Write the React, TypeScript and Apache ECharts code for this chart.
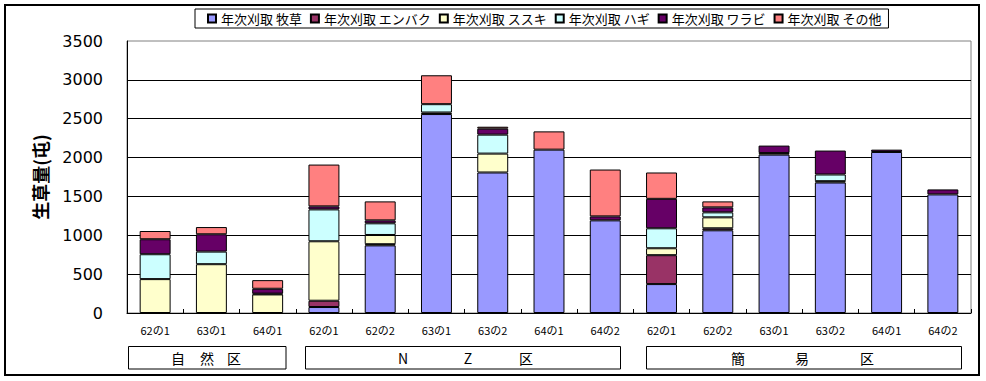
import React, { useEffect, useRef } from "react";
import * as echarts from "echarts";

const categories = ["62の1", "63の1", "64の1", "62の1", "62の2", "63の1", "63の2", "64の1", "64の2", "62の1", "62の2", "63の1", "63の2", "64の1", "64の2"];

const seriesNames = ["年次刈取 牧草", "年次刈取 エンバク", "年次刈取 ススキ", "年次刈取 ハギ", "年次刈取 ワラビ", "年次刈取 その他"];
const seriesColors = ["#9999FF", "#993366", "#FFFFCC", "#CCFFFF", "#660066", "#FF8080"];

const bokusou = [0, 0, 0, 77, 870, 2560, 1808, 2102, 1192, 372, 1064, 2038, 1679, 2072, 1526];
const enbaku = [0, 0, 0, 81, 15, 0, 0, 0, 0, 372, 26, 0, 0, 0, 0];
const susuki = [436, 628, 239, 765, 119, 20, 243, 0, 0, 89, 141, 20, 17, 0, 0];
const hagi = [320, 162, 10, 410, 150, 107, 244, 0, 0, 257, 64, 0, 86, 0, 0];
const warabi = [193, 223, 63, 39, 38, 0, 77, 0, 51, 379, 64, 96, 308, 30, 64];
const sonota = [106, 93, 111, 538, 244, 372, 25, 235, 603, 339, 77, 0, 0, 0, 0];

const seriesValues = [bokusou, enbaku, susuki, hagi, warabi, sonota];

const yAxisName = "生草量(屯)";
const yMin = 0;
const yMax = 3500;
const yInterval = 500;

const groupChars = [
  ["自", "然", "区"],
  ["N", "Z", "区"],
  ["簡", "易", "区"],
];

const CJK = "'Noto Sans CJK JP', 'Noto Sans', sans-serif";

export default function App() {
  const ref = useRef<HTMLDivElement>(null);

  useEffect(() => {
    if (!ref.current) return;
    const chart = echarts.init(ref.current, null, { renderer: "svg" });

    const groupBoxes = [
      { x: 128.5, w: 157.5, cx: [178, 207, 234] },
      { x: 305.5, w: 315, cx: [403, 468, 526] },
      { x: 646.5, w: 315, cx: [738, 802, 867] },
    ];

    const graphics: any[] = [
      {
        type: "rect",
        shape: { x: 5, y: 5, width: 974, height: 370 },
        style: { fill: "none", stroke: "#000", lineWidth: 2 },
        silent: true,
      },
    ];
    groupBoxes.forEach((g, gi) => {
      graphics.push({
        type: "rect",
        shape: { x: g.x, y: 346.5, width: g.w, height: 22.5 },
        style: { fill: "none", stroke: "#000", lineWidth: 1 },
        silent: true,
      });
      groupChars[gi].forEach((ch, ci) => {
        graphics.push({
          type: "text",
          x: g.cx[ci],
          y: 358,
          style: {
            text: ch,
            fontSize: 14,
            fontFamily: CJK,
            fill: "#000",
            align: "center",
            verticalAlign: "middle",
          },
          silent: true,
        });
      });
    });

    chart.setOption({
      animation: false,
      backgroundColor: "#fff",
      legend: {
        left: 195,
        top: 9,
        padding: [3, 7, 3, 12],
        borderColor: "#000",
        borderWidth: 1,
        itemWidth: 8,
        itemHeight: 8,
        itemGap: 8,
        icon: "rect",
        textStyle: { fontSize: 13, fontFamily: CJK, color: "#000" },
        data: seriesNames,
      },
      grid: {
        left: 127,
        right: 15,
        top: 41,
        bottom: 68,
        show: true,
        borderColor: "#808080",
        borderWidth: 1,
        backgroundColor: "#fff",
      },
      xAxis: {
        type: "category",
        data: categories,
        axisLine: { lineStyle: { color: "#000", width: 1 } },
        axisTick: { show: true, inside: true, length: 4, lineStyle: { color: "#000" } },
        axisLabel: { fontSize: 11, fontFamily: CJK, color: "#000", margin: 11, interval: 0 },
      },
      yAxis: {
        type: "value",
        min: yMin,
        max: yMax,
        interval: yInterval,
        name: yAxisName,
        nameLocation: "middle",
        nameRotate: 90,
        nameGap: 78,
        nameTextStyle: { fontSize: 18, fontWeight: "bold", fontFamily: CJK, color: "#000" },
        axisLine: { show: true, lineStyle: { color: "#000", width: 1 } },
        axisTick: { show: false },
        axisLabel: {
          fontSize: 16,
          fontFamily: "'DejaVu Sans', sans-serif",
          color: "#000",
          margin: 24,
          formatter: (v: number) => String(v),
        },
        splitLine: { show: true, showMaxLine: false, lineStyle: { color: "#000", width: 1 } },
      },
      series: seriesNames.map((name, i) => ({
        name,
        type: "bar",
        stack: "total",
        barWidth: "55%",
        data: seriesValues[i].map((v) => (v === 0 ? "-" : v)),
        itemStyle: { color: seriesColors[i], borderColor: "#000", borderWidth: 1 },
      })),
      graphic: graphics,
    });

    return () => chart.dispose();
  }, []);

  return (
    <div
      ref={ref}
      style={{ position: "absolute", left: 0, top: 0, width: 986, height: 381 }}
    />
  );
}
